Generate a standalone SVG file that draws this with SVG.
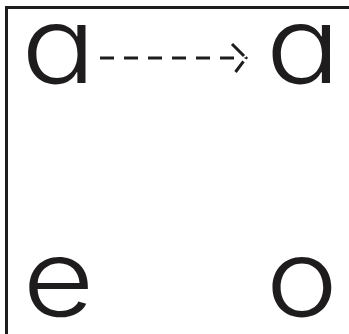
<svg xmlns="http://www.w3.org/2000/svg" width="349" height="334" viewBox="0 0 349 334">
<style>
.lbl{font-family:Inter,"Noto Sans","DejaVu Sans",sans-serif;font-size:106px;font-weight:300;fill:#1e1c1d;text-anchor:middle;font-feature-settings:"cv11" 1;}
.frame{fill:none;stroke:#1e1c1d;stroke-width:3;}
.conn{fill:none;stroke:#1e1c1d;stroke-width:3;}
</style>
<rect width="349" height="334" fill="#fff"/>
<path class="frame" d="M6.5,334 V7.5 H349"/>
<g id="n1"><text class="lbl" transform="translate(58.5,83) scale(1.17,1)">a</text></g>
<g id="n2"><text class="lbl" transform="translate(303,83) scale(1.17,1)">a</text></g>
<g id="n3"><text class="lbl" transform="translate(58.5,316) scale(1.17,1)">e</text></g>
<g id="n4"><text class="lbl" transform="translate(302,316) scale(1.15,1)">o</text></g>
<g id="connectors">
<path class="conn" d="M100,58 H234" stroke-dasharray="14 10"/>
<path class="conn" d="M232,44 L246,58 L235.5,72" stroke-dasharray="17 2 1.5 3.5 14"/>
</g>
</svg>
